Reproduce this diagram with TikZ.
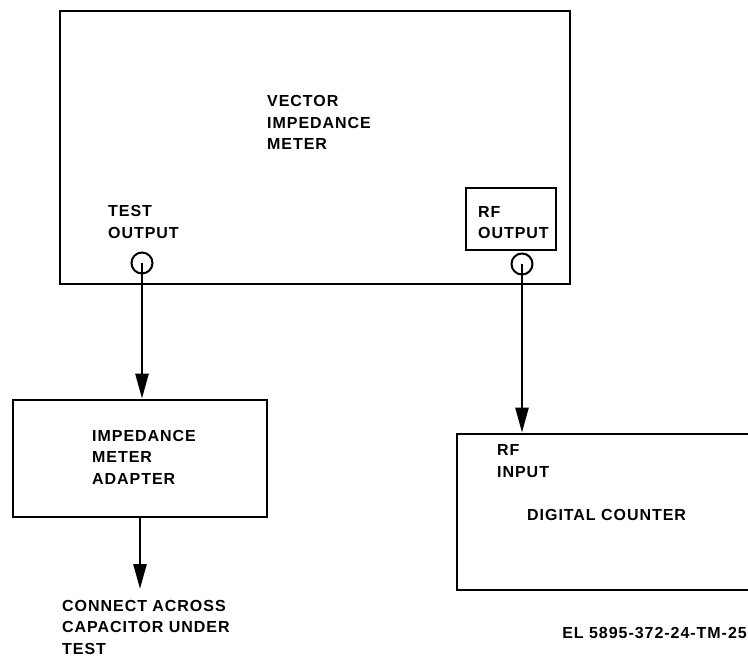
\documentclass[tikz,border=0pt]{standalone}
\usepackage{fontspec}
\newfontfamily\lblfont{Liberation Sans Bold}[LetterSpace=6]
\usetikzlibrary{arrows.meta}
\tikzset{
  box/.style={draw=black, line width=2.8pt},
  lbl/.style={anchor=west, inner sep=0pt, align=left, font=\lblfont\fontsize{16}{21.5}\selectfont},
  jack/.style={draw=black, line width=2pt, circle, minimum size=21pt, inner sep=0pt},
  conn/.style={draw=black, line width=2.6pt, -{Triangle[length=25pt,width=13pt]}}
}
\begin{document}
\begin{tikzpicture}[x=1pt, y=-1pt]
\clip (0,0) rectangle (748,658);
\useasboundingbox (0,0) rectangle (748,658);
% Vector impedance meter
\node[box, minimum width=510pt, minimum height=273pt, inner sep=0pt] (vimbox) at (315,147.5) {};
\node[lbl] (vim) at (267,122.5) {VECTOR\\IMPEDANCE\\METER};
\node[lbl] (testout) at (108,222) {TEST\\OUTPUT};
\node[draw=black, line width=2.6pt, minimum width=90pt, minimum height=62pt, inner sep=0pt] (rfbox) at (511,219) {};
\node[lbl] (rfout) at (478,222.5) {RF\\OUTPUT};
\node[jack] (j1) at (142,263) {};
\node[jack] (j2) at (522,264) {};
% Impedance meter adapter
\node[box, minimum width=254pt, minimum height=117pt, inner sep=0pt] (adapter) at (140,458.5) {};
\node[lbl] (adtext) at (92,457) {IMPEDANCE\\METER\\ADAPTER};
% Digital counter
\node[box, minimum width=303pt, minimum height=156pt, inner sep=0pt] (counter) at (608.5,512) {};
\node[lbl] (rfin) at (497,461) {RF\\INPUT};
\node[lbl] (dc) at (527,515) {DIGITAL COUNTER};
% bottom texts
\node[lbl] (connect) at (62,627) {CONNECT ACROSS\\CAPACITOR UNDER\\TEST};
\coordinate (capend) at (140,589);
\node[lbl, anchor=east] (fig) at (747,633) {EL 5895-372-24-TM-25};
% connectors
\draw[conn] (j1.center) -- (j1.center |- adapter.north);
\draw[conn] (j2.center) -- (j2.center |- counter.north);
\draw[conn] (adapter.south) -- (capend);
\end{tikzpicture}
\end{document}
